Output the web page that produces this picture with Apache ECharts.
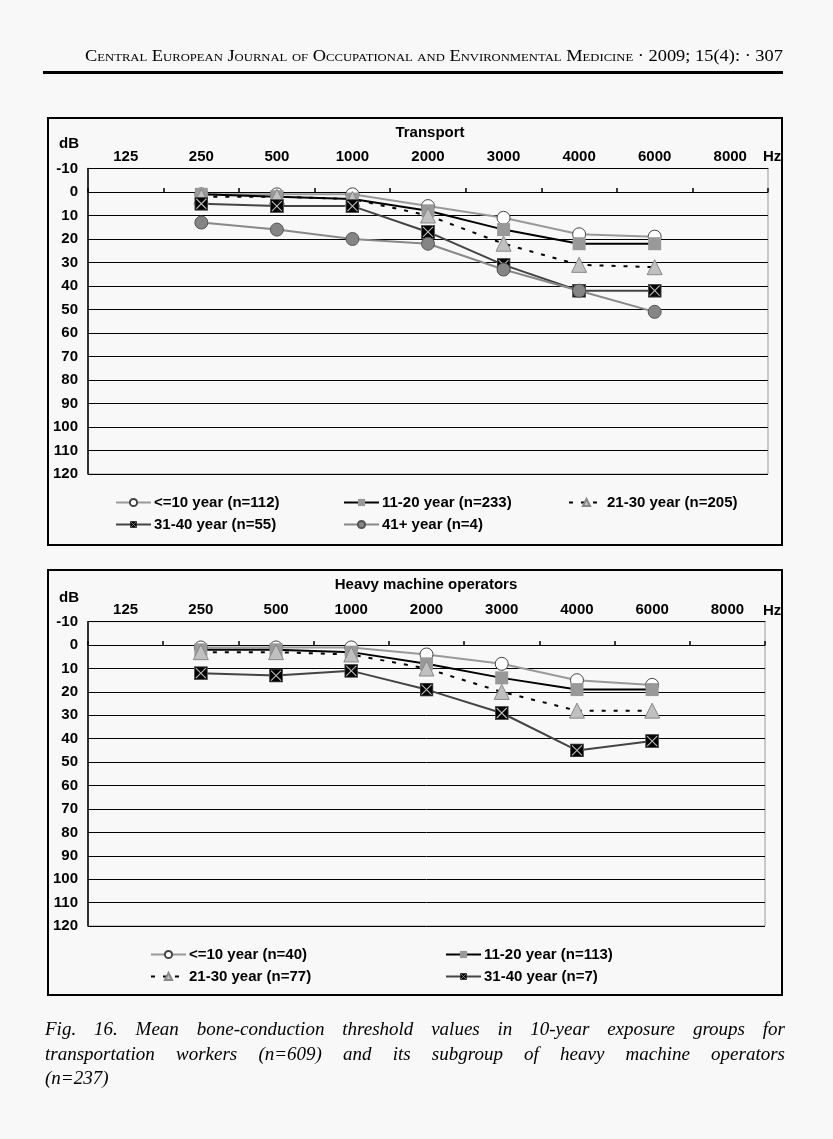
<!DOCTYPE html>
<html>
<head>
<meta charset="utf-8">
<script src="https://cdn.jsdelivr.net/npm/echarts@6/dist/echarts.min.js"></script>
<style>
  html, body { margin: 0; padding: 0; background: #f8f8f8; }
  #wrap { position: relative; width: 833px; height: 1139px; overflow: hidden; background: #f8f8f8; }
  #chart { position: absolute; left: 0; top: 0; width: 833px; height: 1139px; }
  #header { position: absolute; left: 85px; top: 47px; font-family: 'Liberation Serif', 'DejaVu Serif', serif; font-size: 16px; font-variant: small-caps; white-space: nowrap; transform-origin: left top; color: #000; }
  #rule { position: absolute; left: 43px; top: 71px; width: 740px; height: 3px; background: #000; }
  .cap { position: absolute; left: 45px; width: 740px; font-family: 'Liberation Serif', 'DejaVu Serif', serif; font-style: italic; font-size: 19px; color: #000; white-space: nowrap; }
  .just { text-align: justify; text-align-last: justify; }
</style>
</head>
<body>
<div id="wrap">
  <div id="chart"></div>
  <div id="header">Central European Journal of Occupational and Environmental Medicine · 2009; 15(4): · 307</div>
  <div id="rule"></div>
  <div class="cap just" style="top:1018px;">Fig. 16. Mean bone-conduction threshold values in 10-year exposure groups for</div>
  <div class="cap just" style="top:1043px;">transportation workers (n=609) and its subgroup of heavy machine operators</div>
  <div class="cap" style="top:1067px;">(n=237)</div>
</div>
<script>
// ---- data ----
const freqs = ['125', '250', '500', '1000', '2000', '3000', '4000', '6000', '8000'];

// Transport (dB)
const transportNames = ['<=10 year (n=112)', '11-20 year (n=233)', '21-30 year (n=205)', '31-40 year (n=55)', '41+ year (n=4)'];
const t_le10  = [null, 1, 1, 1, 6, 11, 18, 19, null];
const t_11_20 = [null, 1, 2, 3, 8, 16, 22, 22, null];
const t_21_30 = [null, 2, 2, 3, 10, 22, 31, 32, null];
const t_31_40 = [null, 5, 6, 6, 17, 31, 42, 42, null];
const t_41    = [null, 13, 16, 20, 22, 33, 42, 51, null];

// Heavy machine operators (dB)
const heavyNames = ['<=10 year (n=40)', '11-20 year (n=113)', '21-30 year (n=77)', '31-40 year (n=7)'];
const h_le10  = [null, 1, 1, 1, 4, 8, 15, 17, null];
const h_11_20 = [null, 2, 2, 3, 8, 14, 19, 19, null];
const h_21_30 = [null, 3, 3, 4, 10, 20, 28, 28, null];
const h_31_40 = [null, 12, 13, 11, 19, 29, 45, 41, null];

const yMin = -10, yMax = 120, yStep = 10;

// ---- styles ----
const FONT = "'Liberation Sans', Arial, sans-serif";
const xSvg = "<svg xmlns='http://www.w3.org/2000/svg' width='14' height='14'><rect x='0.5' y='0.5' width='13' height='13' fill='#000' stroke='#555'/><path d='M2 2L12 12M12 2L2 12' stroke='#bbb' stroke-width='1.1'/></svg>";
const xSymbol = 'image://data:image/svg+xml;charset=utf-8,' + encodeURIComponent(xSvg);

const styles = [
  { symbol: 'circle', size: 13, item: { color: '#fff', borderColor: '#444', borderWidth: 1 }, line: { color: '#999', width: 2 } },
  { symbol: 'rect', size: 13, item: { color: '#999' }, line: { color: '#000', width: 2 } },
  { symbol: 'triangle', size: 15, item: { color: '#c0c0c0', borderColor: '#888', borderWidth: 1 }, line: { color: '#000', width: 2, type: [4, 8] } },
  { symbol: xSymbol, size: 14, item: { color: '#000' }, line: { color: '#444', width: 2 } },
  { symbol: 'circle', size: 13, item: { color: '#858585', borderColor: '#555', borderWidth: 1 }, line: { color: '#888', width: 2 } }
];

function mkSeries(name, data, st, xIdx, yIdx) {
  return {
    type: 'line', name: name, data: data,
    xAxisIndex: xIdx, yAxisIndex: yIdx,
    symbol: st.symbol, symbolSize: st.size, showAllSymbol: true,
    itemStyle: st.item, lineStyle: st.line,
    emphasis: { disabled: true }, z: 3
  };
}

const grids = [
  { left: 88, top: 168.5, width: 680, height: 305.5, show: true, borderColor: '#999', borderWidth: 1, backgroundColor: 'transparent' },
  { left: 88, top: 621.7, width: 677, height: 304.3, show: true, borderColor: '#999', borderWidth: 1, backgroundColor: 'transparent' }
];

function xAxes(g) {
  return [
    { type: 'category', gridIndex: g, data: freqs, position: 'top', boundaryGap: true,
      axisLine: { show: true, onZero: false, lineStyle: { color: '#000', width: 1 } },
      axisTick: { show: false },
      axisLabel: { color: '#000', fontFamily: FONT, fontWeight: 'bold', fontSize: 15, margin: 4 },
      splitLine: { show: false } },
    { type: 'category', gridIndex: g, data: freqs, position: 'bottom', boundaryGap: true,
      axisLine: { show: true, onZero: true, lineStyle: { color: '#000', width: 1 } },
      axisTick: { show: true, inside: true, length: 4, lineStyle: { color: '#000', width: 1.5 } },
      axisLabel: { show: false }, splitLine: { show: false } }
  ];
}
function yAxis(g) {
  return { type: 'value', gridIndex: g, inverse: true, min: yMin, max: yMax, interval: yStep,
    axisLine: { show: true, lineStyle: { color: '#000', width: 1.5 } },
    axisTick: { show: false },
    axisLabel: { color: '#000', fontFamily: FONT, fontWeight: 'bold', fontSize: 15, margin: 10 },
    splitLine: { show: true, lineStyle: { color: '#000', width: 1 } } };
}

const series = [];
const tData = [t_le10, t_11_20, t_21_30, t_31_40, t_41];
tData.forEach((d, i) => series.push(mkSeries(transportNames[i], d, styles[i], 0, 0)));
const hData = [h_le10, h_11_20, h_21_30, h_31_40];
hData.forEach((d, i) => series.push(mkSeries(heavyNames[i], d, styles[i], 2, 1)));

function leg(name, left, cy) {
  return { data: [name], left: left, top: cy - 8, itemWidth: 35, itemHeight: 9, itemGap: 0,
    padding: 0, selectedMode: false,
    textStyle: { color: '#000', fontFamily: FONT, fontWeight: 'bold', fontSize: 15, padding: [0, 0, 0, -2] } };
}
const legends = [
  leg(transportNames[0], 115, 503), leg(transportNames[1], 343, 503), leg(transportNames[2], 568, 503),
  leg(transportNames[3], 115, 525), leg(transportNames[4], 343, 525),
  leg(heavyNames[0], 150, 955), leg(heavyNames[1], 445, 955),
  leg(heavyNames[2], 150, 977), leg(heavyNames[3], 445, 977)
];

function txt(x, y, s, align) {
  return { type: 'text', x: x, y: y, style: { text: s, fill: '#000', font: 'bold 15px ' + FONT, textAlign: align || 'left', textVerticalAlign: 'middle' } };
}
const graphics = [
  { type: 'rect', shape: { x: 48, y: 118, width: 734, height: 427 }, style: { fill: 'none', stroke: '#000', lineWidth: 2 }, z: 0 },
  { type: 'rect', shape: { x: 48, y: 570, width: 734, height: 425 }, style: { fill: 'none', stroke: '#000', lineWidth: 2 }, z: 0 },
  txt(430, 133, 'Transport', 'center'),
  txt(59, 144, 'dB'),
  txt(763, 157, 'Hz'),
  txt(426, 585, 'Heavy machine operators', 'center'),
  txt(59, 598, 'dB'),
  txt(763, 610.5, 'Hz')
];

const chart = echarts.init(document.getElementById('chart'), null, { renderer: 'canvas' });
chart.setOption({
  animation: false,
  backgroundColor: '#f8f8f8',
  grid: grids,
  xAxis: xAxes(0).concat(xAxes(1)),
  yAxis: [yAxis(0), yAxis(1)],
  legend: legends,
  series: series,
  graphic: graphics
});

// fit header width
const hd = document.getElementById('header');
const w = hd.getBoundingClientRect().width;
hd.style.transform = 'scaleX(' + (698 / w) + ')';
</script>
</body>
</html>
